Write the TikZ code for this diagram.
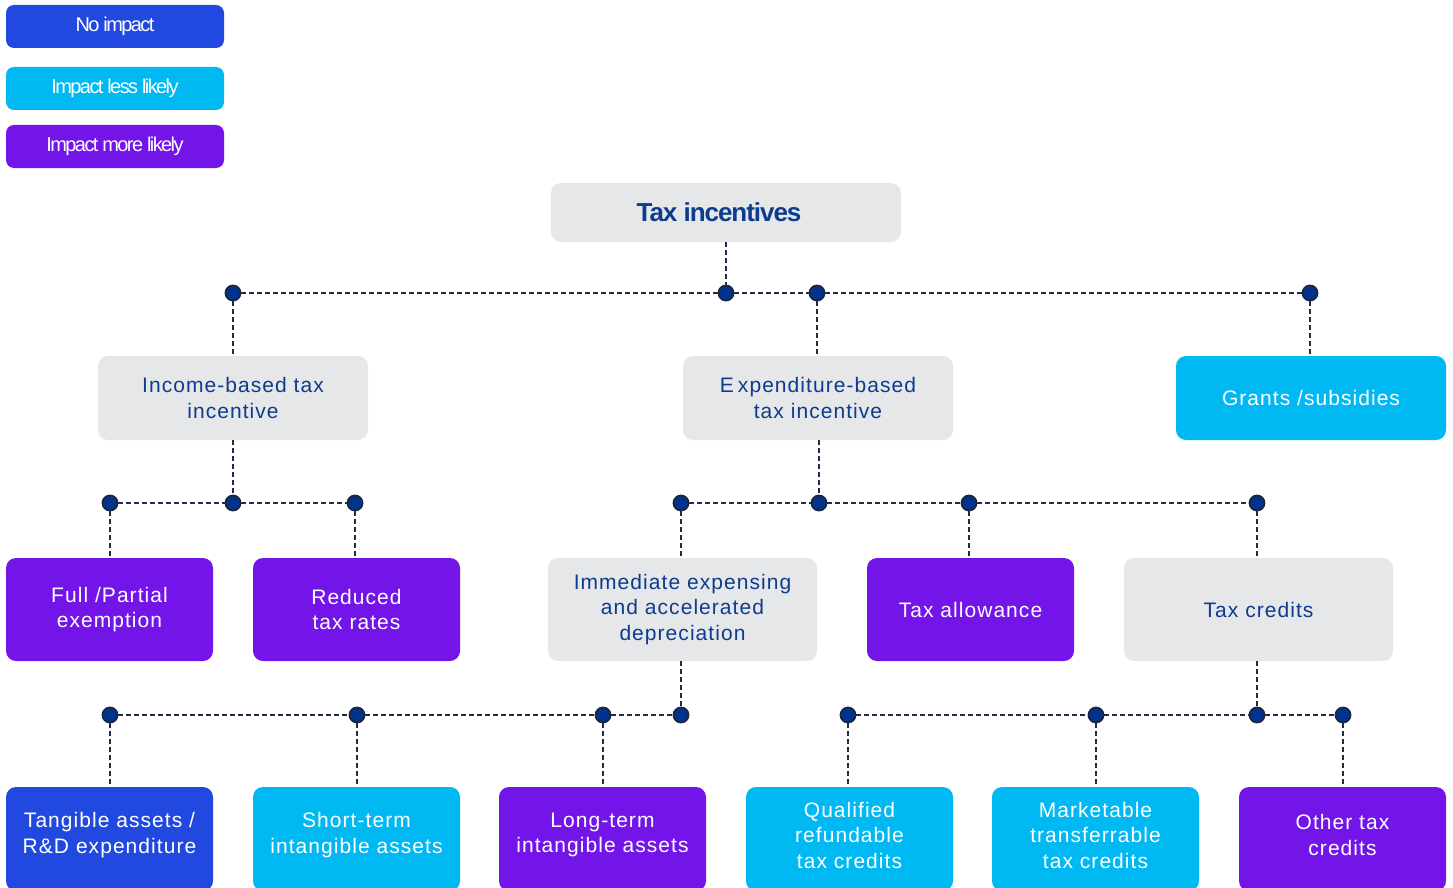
\documentclass[tikz,border=0pt]{standalone}
\usepackage{fontspec}
\setmainfont{Liberation Sans}
\newfontfamily\bodyfont[LetterSpace=5]{Liberation Sans}
\newfontfamily\legfont[LetterSpace=-8]{Liberation Sans}
\newfontfamily\ttlfont[LetterSpace=-4]{Liberation Sans}
\definecolor{boxgray}{HTML}{E6E7E8}
\definecolor{txtblue}{HTML}{0D3B8E}
\definecolor{cyanc}{HTML}{00B9F2}
\definecolor{purplec}{HTML}{7314E8}
\definecolor{bluec}{HTML}{2249DF}
\definecolor{dotfill}{HTML}{00338D}
\definecolor{dotline}{HTML}{1A2740}
\definecolor{linecol}{HTML}{1F2C44}
\begin{document}
\begin{tikzpicture}[x=1pt,y=-1pt,
  box/.style={rounded corners=10pt, align=center, inner sep=0pt,
    font=\bodyfont\fontsize{21}{25.5}\selectfont},
  wide/.style={minimum width=270pt, minimum height=84pt},
  midb/.style={minimum width=207pt, minimum height=103pt},
  midw/.style={minimum width=269pt, minimum height=103pt},
  botb/.style={minimum width=207pt, minimum height=104pt},
  grayb/.style={box, fill=boxgray, text=txtblue},
  cyanb/.style={box, fill=cyanc, text=white},
  purpb/.style={box, fill=purplec, text=white},
  blueb/.style={box, fill=bluec, text=white},
  lbl/.style={align=center, text=white, inner sep=0pt, yshift=4pt,
    font=\bodyfont\fontsize{21}{25.5}\selectfont},
  legend/.style={rounded corners=8pt, minimum width=218pt, minimum height=43pt,
    inner sep=0pt, text=white, font=\legfont\fontsize{20}{24}\selectfont},
  dotn/.style={circle, fill=dotfill, draw=dotline, line width=1.8pt,
    minimum size=15pt, inner sep=0pt},
  conn/.style={draw=linecol, line width=1.6pt, dash pattern=on 5pt off 3pt}
]
\useasboundingbox (0,0) rectangle (1453,888);
\clip (0,0) rectangle (1453,888);

% legend
\node[legend, fill=bluec] (leg1) at (115,26.5) {\raisebox{-2pt}{No impact}};
\node[legend, fill=cyanc] (leg2) at (115,88.5) {\raisebox{-2pt}{Impact less likely}};
\node[legend, fill=purplec] (leg3) at (115,146.5) {\raisebox{-1pt}{Impact more likely}};

% root
\node[box, fill=boxgray, text=txtblue, minimum width=350pt, minimum height=59pt,
  font=\ttlfont\bfseries\fontsize{26}{30}\selectfont] (root) at (726,212.5) {Tax incentives\hspace*{14pt}};

% level 1
\node[grayb, wide] (inc) at (233,398) {Income-based tax\\incentive};
\node[grayb, wide] (exp) at (818,398) {E\kern4pt xpenditure-based\\tax incentive};
\node[cyanb, wide] (grants) at (1311,398) {Grants /subsidies};

% level 2
\node[purpb, midb] (full) at (109.5,609.5) {Full /Partial\\exemption};
\node[purpb, midb] (red) at (356.5,609.5) {Reduced\\tax rates};
\node[grayb, midw] (imm) at (682.5,609.5) {Immediate expensing\\and accelerated\\depreciation};
\node[purpb, midb] (allow) at (970.5,609.5) {Tax allowance};
\node[grayb, midw] (cred) at (1258.5,609.5) {Tax credits};

% level 3
\node[blueb, botb, label={[lbl]center:Tangible assets /\\R\&D expenditure}] (tang) at (109.5,839) {};
\node[cyanb, botb, label={[lbl]center:Short-term\\intangible assets}] (short) at (356.5,839) {};
\node[purpb, botb, label={[lbl]center:Long-term\\intangible assets}] (long) at (602.5,839) {};
\node[cyanb, botb, label={[lbl]center:Qualified\\refundable\\tax credits}] (qual) at (849.5,839) {};
\node[cyanb, botb, label={[lbl]center:Marketable\\transferrable\\tax credits}] (mark) at (1095.5,839) {};
\node[purpb, botb, label={[lbl]center:Other tax\\credits}] (other) at (1342.5,839) {};

% dots
\node[dotn] (a1) at (233,293) {};
\node[dotn] (a2) at (726,293) {};
\node[dotn] (a3) at (817,293) {};
\node[dotn] (a4) at (1310,293) {};
\node[dotn] (b1) at (110,503) {};
\node[dotn] (b2) at (233,503) {};
\node[dotn] (b3) at (355,503) {};
\node[dotn] (c1) at (681,503) {};
\node[dotn] (c2) at (819,503) {};
\node[dotn] (c3) at (969,503) {};
\node[dotn] (c4) at (1257,503) {};
\node[dotn] (e1) at (110,715) {};
\node[dotn] (e2) at (357,715) {};
\node[dotn] (e3) at (603,715) {};
\node[dotn] (e4) at (681,715) {};
\node[dotn] (f1) at (848,715) {};
\node[dotn] (f2) at (1096,715) {};
\node[dotn] (f3) at (1257,715) {};
\node[dotn] (f4) at (1343,715) {};

% connectors level 1
\draw[conn] (root.south -| a2) -- (a2);
\draw[conn] (a1) -- (a2);
\draw[conn] (a2) -- (a3);
\draw[conn] (a3) -- (a4);
\draw[conn] (a1) -- (a1 |- inc.north);
\draw[conn] (a3) -- (a3 |- exp.north);
\draw[conn] (a4) -- (a4 |- grants.north);

% connectors level 2
\draw[conn] (b2 |- inc.south) -- (b2);
\draw[conn] (b1) -- (b2);
\draw[conn] (b2) -- (b3);
\draw[conn] (b1) -- (b1 |- full.north);
\draw[conn] (b3) -- (b3 |- red.north);
\draw[conn] (c2 |- exp.south) -- (c2);
\draw[conn] (c1) -- (c2);
\draw[conn] (c2) -- (c3);
\draw[conn] (c3) -- (c4);
\draw[conn] (c1) -- (c1 |- imm.north);
\draw[conn] (c3) -- (c3 |- allow.north);
\draw[conn] (c4) -- (c4 |- cred.north);

% connectors level 3
\draw[conn] (e4 |- imm.south) -- (e4);
\draw[conn] (e1) -- (e2);
\draw[conn] (e2) -- (e3);
\draw[conn] (e3) -- (e4);
\draw[conn] (e1) -- (e1 |- tang.north);
\draw[conn] (e2) -- (e2 |- short.north);
\draw[conn] (e3) -- (e3 |- long.north);
\draw[conn] (f3 |- cred.south) -- (f3);
\draw[conn] (f1) -- (f2);
\draw[conn] (f2) -- (f3);
\draw[conn] (f3) -- (f4);
\draw[conn] (f1) -- (f1 |- qual.north);
\draw[conn] (f2) -- (f2 |- mark.north);
\draw[conn] (f4) -- (f4 |- other.north);
\end{tikzpicture}
\end{document}
